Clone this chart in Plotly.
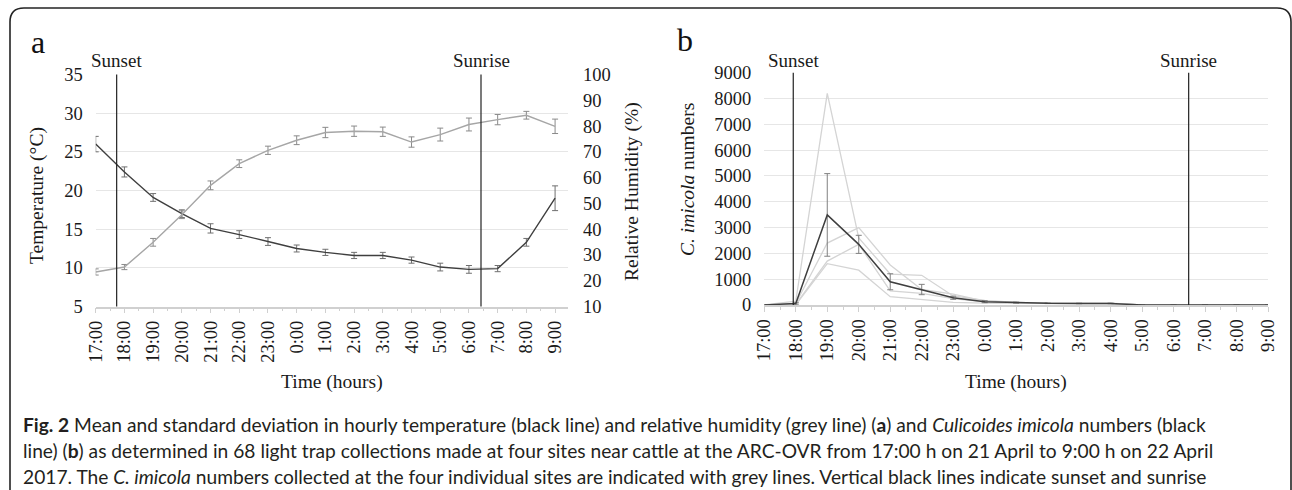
import plotly.graph_objects as go

# ---------------- data ----------------
hours = ["17:00", "18:00", "19:00", "20:00", "21:00", "22:00", "23:00", "0:00", "1:00",
         "2:00", "3:00", "4:00", "5:00", "6:00", "7:00", "8:00", "9:00"]

temp_mean = [26.0, 22.4, 19.1, 17.0, 15.1, 14.3, 13.4, 12.5, 12.0, 11.6, 11.6, 11.0, 10.1, 9.8, 9.9, 13.3, 19.0]
temp_sd = [1.0, 0.65, 0.5, 0.5, 0.6, 0.5, 0.5, 0.45, 0.4, 0.4, 0.4, 0.4, 0.5, 0.5, 0.4, 0.5, 1.6]

rh_mean = [23.4, 25.3, 34.9, 45.6, 57.0, 65.4, 70.6, 74.5, 77.5, 78.0, 77.8, 73.8, 76.7, 80.6, 82.5, 84.2, 79.9]
rh_sd = [1.2, 1.0, 1.5, 1.5, 1.7, 1.5, 1.6, 1.7, 2.0, 2.0, 1.8, 2.0, 2.5, 2.5, 2.0, 1.5, 2.8]

imicola_mean = [0, 60, 3490, 2350, 900, 600, 280, 130, 90, 65, 60, 60, 0, 0, 0, 0, 0]
imicola_sd = [0, 30, 1600, 350, 310, 200, 60, 40, 20, 10, 10, 10, 0, 0, 0, 0, 0]

site_1 = [0, 150, 8200, 2600, 1200, 1150, 350, 180, 100, 70, 60, 60, 0, 0, 0, 0, 0]
site_2 = [0, 60, 2400, 3000, 1550, 600, 420, 150, 100, 70, 70, 70, 0, 0, 0, 0, 0]
site_3 = [0, 20, 1700, 2350, 550, 450, 250, 120, 90, 60, 60, 60, 0, 0, 0, 0, 0]
site_4 = [0, 10, 1600, 1350, 320, 200, 100, 70, 70, 60, 50, 50, 0, 0, 0, 0, 0]
sites = [site_1, site_2, site_3, site_4]

# sunset / sunrise as hours after 17:00, as drawn in each panel
sunset_a, sunrise_a = 0.73, 13.42
sunset_b, sunrise_b = 0.92, 13.48

caption_lines = [
    "<b>Fig. 2</b> Mean and standard deviation in hourly temperature (black line) and relative humidity (grey line) (<b>a</b>) and <i>Culicoides imicola</i> numbers (black",
    "line) (<b>b</b>) as determined in 68 light trap collections made at four sites near cattle at the ARC-OVR from 17:00 h on 21 April to 9:00 h on 22 April",
    "2017. The <i>C. imicola</i> numbers collected at the four individual sites are indicated with grey lines. Vertical black lines indicate sunset and sunrise",
]

# ---------------- layout helpers ----------------
W, H = 1292, 490
def px(x):
    return x / W
def py(y):
    return 1 - y / H

idx = list(range(len(hours)))
SERIF = "Liberation Serif, Times New Roman, serif"
DARK = "#3f3f3f"
GREY = "#a6a6a6"

fig = go.Figure()

# Panel a
fig.add_trace(go.Scatter(x=idx, y=temp_mean, mode="lines", line=dict(color=DARK, width=1.4),
                         error_y=dict(type="data", array=temp_sd, color="#6f6f6f", thickness=1, width=3),
                         xaxis="x", yaxis="y", showlegend=False))
fig.add_trace(go.Scatter(x=idx, y=rh_mean, mode="lines", line=dict(color=GREY, width=1.4),
                         error_y=dict(type="data", array=rh_sd, color="#8a8a8a", thickness=1, width=3),
                         xaxis="x", yaxis="y2", showlegend=False))

# Panel b
for s in sites:
    fig.add_trace(go.Scatter(x=idx, y=s, mode="lines", line=dict(color="#d4d4d4", width=1.3),
                             xaxis="x3", yaxis="y3", showlegend=False))
fig.add_trace(go.Scatter(x=idx, y=imicola_mean, mode="lines", line=dict(color=DARK, width=1.5),
                         error_y=dict(type="data", array=imicola_sd, color="#808080", thickness=1, width=3),
                         xaxis="x3", yaxis="y3", showlegend=False))

tickfont = dict(family=SERIF, size=18.5, color="#1a1a1a")

xcommon = dict(tickmode="array", tickvals=idx, ticktext=hours, tickangle=-90,
               tickfont=tickfont, showgrid=False, zeroline=False, automargin=False,
               showline=True, linecolor="#d0d0d0", linewidth=1.5,
               ticks="outside", ticklen=5, tickcolor="#d0d0d0", tickwidth=1.2,
               minor=dict(dtick=0.5, tick0=0, ticks="outside", ticklen=3, tickcolor="#d0d0d0"))

fig.update_layout(
    width=W, height=H, margin=dict(l=0, r=0, t=0, b=0, pad=0, autoexpand=False),
    paper_bgcolor="white", plot_bgcolor="white",
    xaxis=dict(domain=[px(95.7), px(568)], range=[0, 16.45], anchor="y", **xcommon),
    yaxis=dict(domain=[py(306.5), py(74.5)], range=[5, 35], dtick=5, tickfont=tickfont,
               showgrid=True, gridcolor="#e6e6e6", gridwidth=1, zeroline=False, automargin=False,
               showline=False, ticks="", ticklabelstandoff=12, anchor="x"),
    yaxis2=dict(domain=[py(306.5), py(74.5)], range=[10, 100], dtick=10, tickfont=tickfont,
                overlaying="y", side="right", anchor="x", showgrid=False, zeroline=False,
                automargin=False, showline=False, ticks="", ticklabelstandoff=14),
    xaxis3=dict(domain=[px(764.3), px(1268)], range=[0, 16], anchor="y3", **xcommon),
    yaxis3=dict(domain=[py(305), py(72.7)], range=[0, 9000], dtick=1000, tickfont=tickfont,
                showgrid=True, gridcolor="#e6e6e6", gridwidth=1, zeroline=False, automargin=False,
                showline=False, ticks="", ticklabelstandoff=12, anchor="x3"),
)

# sunset / sunrise vertical lines
for xv, xr, yr in [(sunset_a, "x", "y"), (sunrise_a, "x", "y"), (sunset_b, "x3", "y3"), (sunrise_b, "x3", "y3")]:
    fig.add_shape(type="line", xref=xr, yref=yr + " domain", x0=xv, x1=xv, y0=0, y1=1,
                  line=dict(color="#222222", width=1.2), layer="above")

ann = []
for xv, xr, label in [(sunset_a, "x", "Sunset"), (sunrise_a, "x", "Sunrise"),
                      (sunset_b, "x3", "Sunset"), (sunrise_b, "x3", "Sunrise")]:
    ann.append(dict(x=xv, xref=xr, y=py(60), yref="paper", text=label, showarrow=False,
                    font=dict(family=SERIF, size=19, color="#1a1a1a"), xanchor="center", yanchor="middle"))

# panel letters
ann.append(dict(x=px(29), y=py(42), xref="paper", yref="paper", text="a", showarrow=False,
                font=dict(family=SERIF, size=32, color="#111"), xanchor="left", yanchor="middle"))
ann.append(dict(x=px(675), y=py(40), xref="paper", yref="paper", text="b", showarrow=False,
                font=dict(family=SERIF, size=32, color="#111"), xanchor="left", yanchor="middle"))

titlefont = dict(family=SERIF, size=19.5, color="#1a1a1a")
# axis titles
ann.append(dict(x=px(332), y=py(382), xref="paper", yref="paper", text="Time (hours)", showarrow=False,
                font=titlefont, xanchor="center", yanchor="middle"))
ann.append(dict(x=px(1016), y=py(382), xref="paper", yref="paper", text="Time (hours)", showarrow=False,
                font=titlefont, xanchor="center", yanchor="middle"))
ann.append(dict(x=px(37), y=py(196), xref="paper", yref="paper", text="Temperature (°C)", showarrow=False,
                font=titlefont, textangle=-90, xanchor="center", yanchor="middle"))
ann.append(dict(x=px(632), y=py(192), xref="paper", yref="paper", text="Relative Humidity (%)", showarrow=False,
                font=titlefont, textangle=-90, xanchor="center", yanchor="middle"))
ann.append(dict(x=px(688), y=py(180), xref="paper", yref="paper", text="<i>C. imicola</i> numbers", showarrow=False,
                font=titlefont, textangle=-90, xanchor="center", yanchor="middle"))

# caption
for i, line in enumerate(caption_lines):
    ann.append(dict(x=px(21), y=py(424 + 26 * i), xref="paper", yref="paper", text=line, showarrow=False,
                    font=dict(family="Lato, Open Sans, sans-serif", size=19.2, color="#231f20"),
                    xanchor="left", yanchor="middle", align="left"))

fig.update_layout(annotations=ann)

# rounded frame around the figure
r = 14
frame = dict(color="#222222", width=1.6)
fig.add_shape(type="line", xref="paper", yref="paper", x0=px(10), x1=px(10), y0=py(H), y1=py(8 + r), line=frame)
fig.add_shape(type="line", xref="paper", yref="paper", x0=px(10 + r), x1=px(1291 - r), y0=py(8), y1=py(8), line=frame)
fig.add_shape(type="line", xref="paper", yref="paper", x0=px(1291), x1=px(1291), y0=py(H), y1=py(8 + r), line=frame)
fig.add_shape(type="path", xref="paper", yref="paper",
              path=f"M {px(10)},{py(8 + r)} Q {px(10)},{py(8)} {px(10 + r)},{py(8)}", line=frame)
fig.add_shape(type="path", xref="paper", yref="paper",
              path=f"M {px(1291 - r)},{py(8)} Q {px(1291)},{py(8)} {px(1291)},{py(8 + r)}", line=frame)

fig.write_html("out.html", config={"displayModeBar": False},
               post_script="document.body.style.margin='0';document.body.style.padding='0';document.body.style.overflow='hidden';")
